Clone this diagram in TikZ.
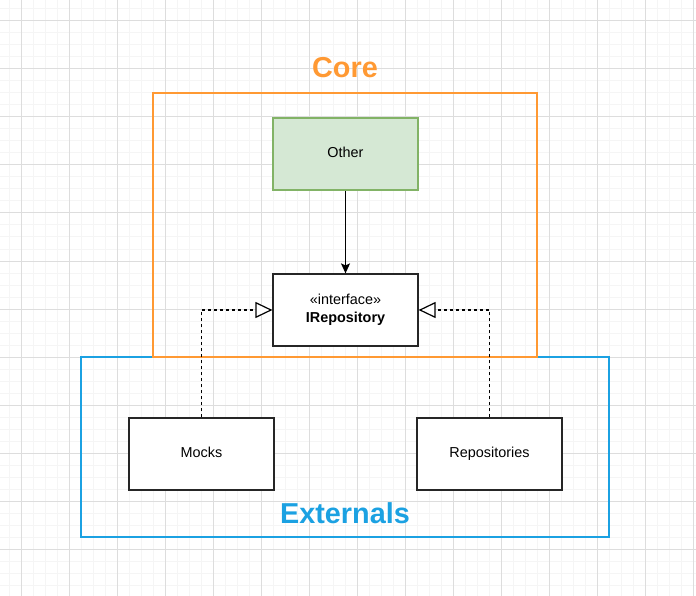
\documentclass[tikz,border=0pt]{standalone}
\usepackage{fontspec}
\setmainfont{Liberation Sans}
\usetikzlibrary{arrows.meta}

\definecolor{coreorange}{HTML}{FF9933}
\definecolor{extblue}{HTML}{1BA1E2}
\definecolor{othergreen}{HTML}{D5E8D4}
\definecolor{otherborder}{HTML}{82B366}
\definecolor{gridminor}{HTML}{F5F5F5}
\definecolor{gridmajor}{HTML}{DDDDDD}

\begin{document}
\begin{tikzpicture}[x=1pt, y=-1pt]
        \tikzstyle{box}=[draw=black!85,line width=1.2pt,fill=white,minimum width=145pt,minimum height=72pt,inner sep=0pt,text depth=3pt,font=\fontsize{14.4}{17.5}\selectfont]
        \tikzstyle{other}=[box,draw=otherborder,fill=othergreen]
        \tikzstyle{layer}=[line width=2.4pt]
        \tikzstyle{title}=[font=\fontsize{28.8}{32}\selectfont\bfseries]
        \tikzstyle{realize}=[dashed,dash pattern=on 3pt off 3pt,line width=1.2pt,-{Triangle[open,length=17pt,width=16pt,fill=white]}]

        \useasboundingbox (0,0) rectangle (696,596);
        \fill[white] (0,0) rectangle (696,596);

        % grid
        \foreach \x in {9,21,...,693} \draw[gridminor,line width=1pt] (\x,0) -- (\x,596);
        \foreach \y in {9,21,...,585} \draw[gridminor,line width=1pt] (0,\y) -- (696,\y);
        \foreach \x in {21,69,...,693} \draw[gridmajor,line width=1pt] (\x,0) -- (\x,596);
        \foreach \y in {21,69,...,585} \draw[gridmajor,line width=1pt] (0,\y) -- (696,\y);

        % layers
        \draw[layer,extblue] (81,357) rectangle (609,537);
        \draw[layer,coreorange] (153,93) rectangle (537,357);
        \node[title,text=coreorange] (core) at (345,68) {Core};
        \node[title,text=extblue] (externals) at (345,513) {Externals};

        \node[other] (other) at (345.5,154) {Other};
        \node[box,align=center] (irepo) at (345.5,310) {«interface»\\\textbf{IRepository}};
        \node[box] (mocks) at (201.5,454) {Mocks};
        \node[box] (repos) at (489.5,454) {Repositories};

        \draw[line width=1.2pt,-{Stealth[length=10pt,width=9pt,inset=2pt]}] (other) -- (irepo);
        \draw[realize] (mocks.north) |- (irepo.west);
        \draw[realize] (repos.north) |- (irepo.east);
    \end{tikzpicture}
\end{document}
